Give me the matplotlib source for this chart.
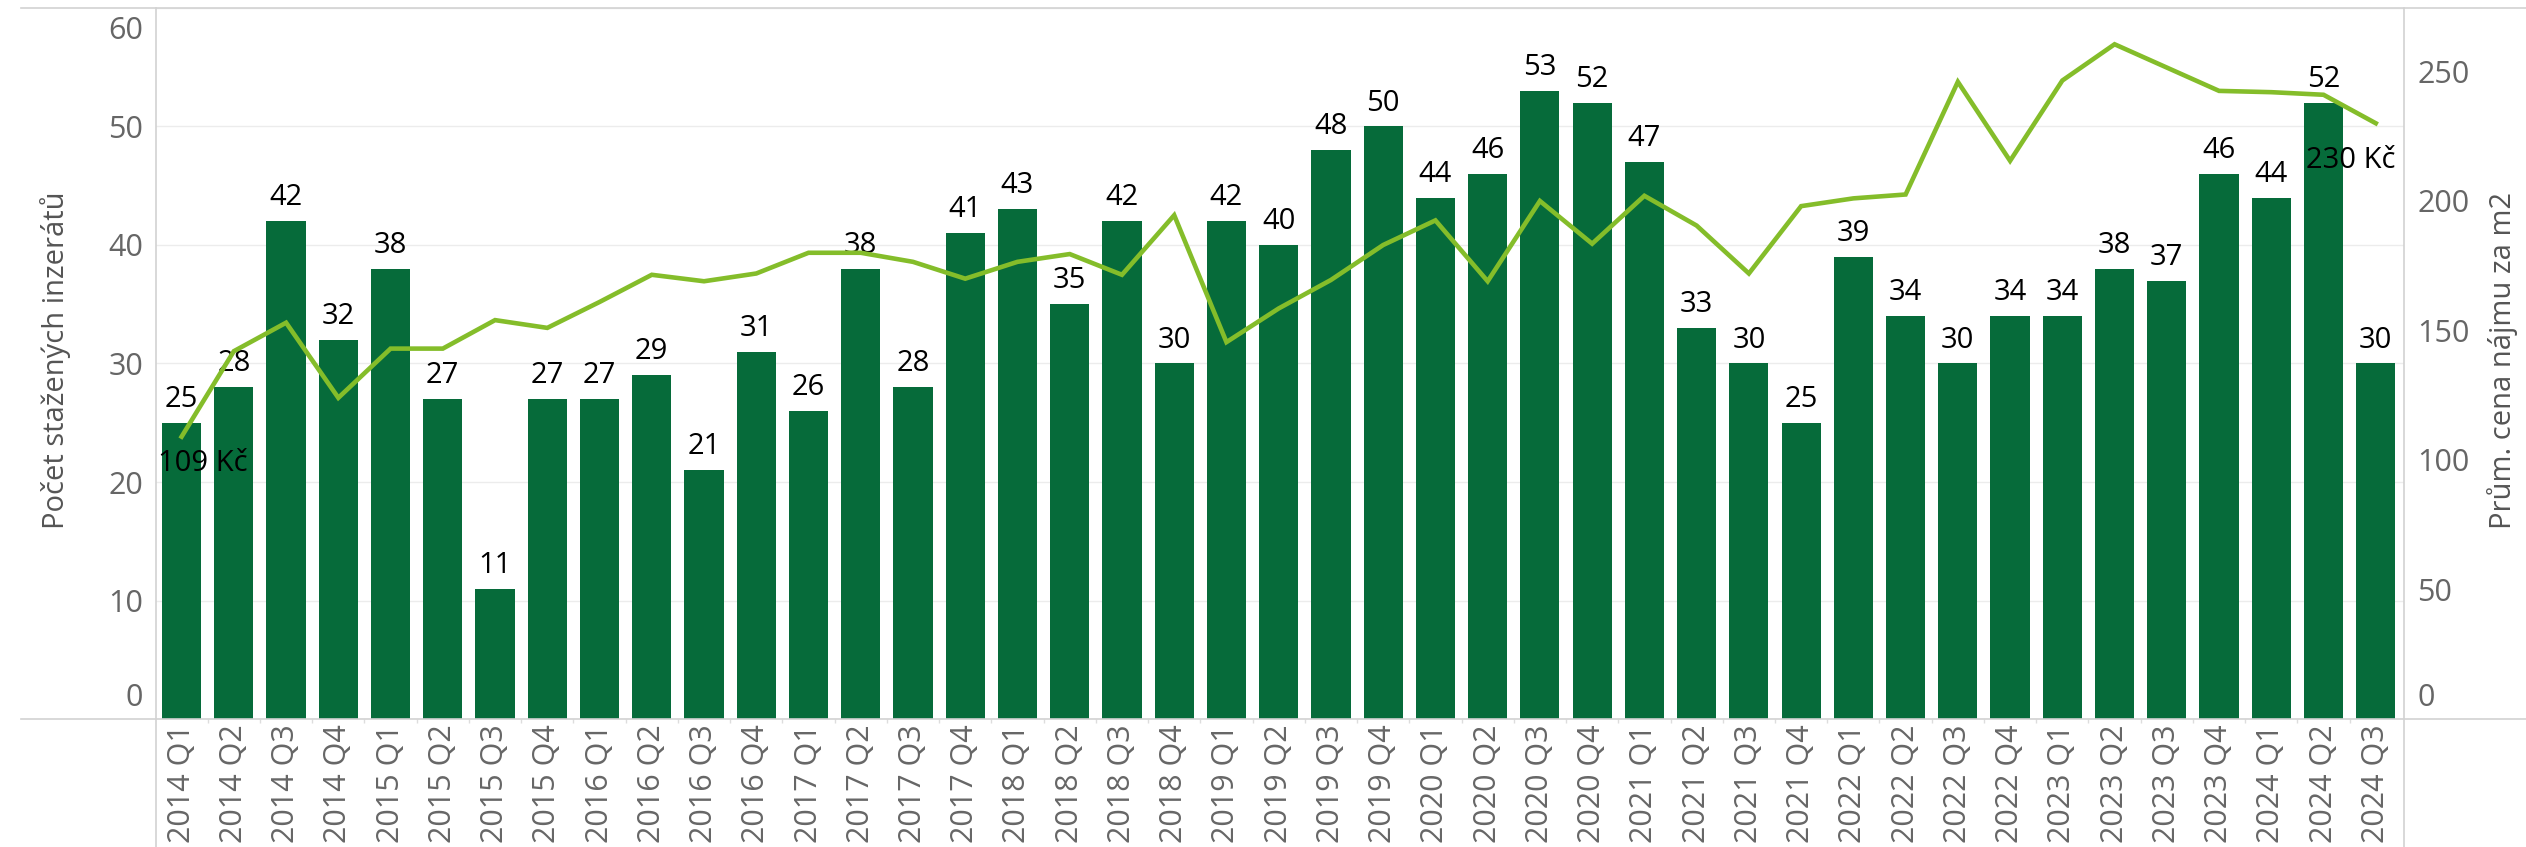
import matplotlib
matplotlib.use("Agg")
import matplotlib.pyplot as plt
from matplotlib.lines import Line2D
from matplotlib.transforms import ScaledTranslation
import numpy as np

plt.rcParams["font.family"] = ["Open Sans", "DejaVu Sans"]

# quarters shown on the x axis
quarters = [
    "2014 Q1", "2014 Q2", "2014 Q3", "2014 Q4",
    "2015 Q1", "2015 Q2", "2015 Q3", "2015 Q4",
    "2016 Q1", "2016 Q2", "2016 Q3", "2016 Q4",
    "2017 Q1", "2017 Q2", "2017 Q3", "2017 Q4",
    "2018 Q1", "2018 Q2", "2018 Q3", "2018 Q4",
    "2019 Q1", "2019 Q2", "2019 Q3", "2019 Q4",
    "2020 Q1", "2020 Q2", "2020 Q3", "2020 Q4",
    "2021 Q1", "2021 Q2", "2021 Q3", "2021 Q4",
    "2022 Q1", "2022 Q2", "2022 Q3", "2022 Q4",
    "2023 Q1", "2023 Q2", "2023 Q3", "2023 Q4",
    "2024 Q1", "2024 Q2", "2024 Q3",
]
# number of downloaded listings (bars, left axis)
listings = [
    25, 28, 42, 32,
    38, 27, 11, 27,
    27, 29, 21, 31,
    26, 38, 28, 41,
    43, 35, 42, 30,
    42, 40, 48, 50,
    44, 46, 53, 52,
    47, 33, 30, 25,
    39, 34, 30, 34,
    34, 38, 37, 46,
    44, 52, 30,
]
# average rent per m2 in CZK (line, right axis)
price = [
    109, 142, 153, 124,
    143, 143, 154, 151,
    161, 171.5, 169, 172,
    180, 180, 176.5, 170,
    176.5, 179.5, 171.5, 194.5,
    145.5, 158.5, 169.5, 183,
    192.5, 169, 200, 183.5,
    202, 190.5, 172, 198,
    201, 202.5, 246, 215.5,
    246.5, 260.5, 251.5, 242.5,
    242, 241, 230,
]

BAR = "#066b3a"
LINE = "#84bd2a"
TICK = "#666666"
TITLE = "#555555"
FRAME = "#d2d2d2"

W, H = 2526, 847
fig = plt.figure(figsize=(W / 100, H / 100), dpi=100)
ax = fig.add_axes([156 / W, 1 - 719 / H, (2404 - 156) / W, (719 - 8) / H])


# nudge a tick label by some pixels (tableau keeps edge labels inside)
def nudge(label, dy_px):
    label.set_transform(label.get_transform()
                        + ScaledTranslation(0, dy_px / 100, fig.dpi_scale_trans))


x = np.arange(len(quarters))
ax.bar(x, listings, width=0.75, color=BAR, zorder=2)
ax.set_xlim(-0.49, len(quarters) - 0.46)
ax.set_ylim(0, 60)
ax.set_yticks(range(0, 61, 10))
ax.grid(axis="y", color="#ececec", lw=1, zorder=0)
ax.set_axisbelow(True)
for s in ax.spines.values():
    s.set_visible(False)

# value labels above bars
for i, v in enumerate(listings):
    ax.annotate(str(v), (i, v), xytext=(0, 11.5), textcoords="offset points",
                ha="center", va="baseline", fontsize=21, color="black", zorder=4)

ax.set_xticks(x)
ax.set_xticklabels(quarters, rotation=90)
ax.set_xticks(x[:-1] + 0.5, minor=True)
ax.tick_params(axis="x", which="major", length=0, pad=3.6, labelsize=22, labelcolor=TICK)
ax.tick_params(axis="x", which="minor", length=3, width=1, color="#dddddd")
ax.tick_params(axis="y", length=0, pad=9.4, labelsize=22, labelcolor=TICK)
ylabs = ax.get_yticklabels()
ylabs[0].set_va("bottom")
nudge(ylabs[0], 6)
ylabs[-1].set_va("top")
nudge(ylabs[-1], -8)

# price line on the second axis
ax2 = ax.twinx()
ax2.plot(x, price, color=LINE, lw=3.3, zorder=3, solid_joinstyle="miter")
ax2.set_ylim(0, 274.5)
ax2.set_yticks(range(0, 251, 50))
for s in ax2.spines.values():
    s.set_visible(False)
ax2.tick_params(axis="y", length=0, pad=9.4, labelsize=22, labelcolor=TICK)
rlabs = ax2.get_yticklabels()
rlabs[0].set_va("bottom")
nudge(rlabs[0], 6)

ax2.annotate(f"{price[0]:.0f} Kč", (x[0], price[0]), xytext=(15, -19.5),
             textcoords="offset points", ha="center", va="center",
             fontsize=21, color="black")
ax2.annotate(f"{price[-1]:.0f} Kč", (x[-1], price[-1]), xytext=(14.4, -26.6),
             textcoords="offset points", ha="right", va="center",
             fontsize=21, color="black")

fig.text(56 / W, 1 - 360 / H, "Počet stažených inzerátů", rotation=90,
         ha="center", va="center", fontsize=21, color=TITLE)
fig.text(2503 / W, 1 - 360 / H, "Prům. cena nájmu za m2", rotation=90,
         ha="center", va="center", fontsize=21, color=TITLE)


# frame lines like the dashboard layout
def fline(x0, y0, x1, y1):
    fig.add_artist(Line2D([x0 / W, x1 / W], [1 - y0 / H, 1 - y1 / H],
                          transform=fig.transFigure, color=FRAME, lw=1.2))


fline(21, 8, W, 8)
fline(21, 719, W, 719)
fline(156, 8, 156, H)
fline(2404, 8, 2404, H)

fig.savefig("out.png", dpi=100)
